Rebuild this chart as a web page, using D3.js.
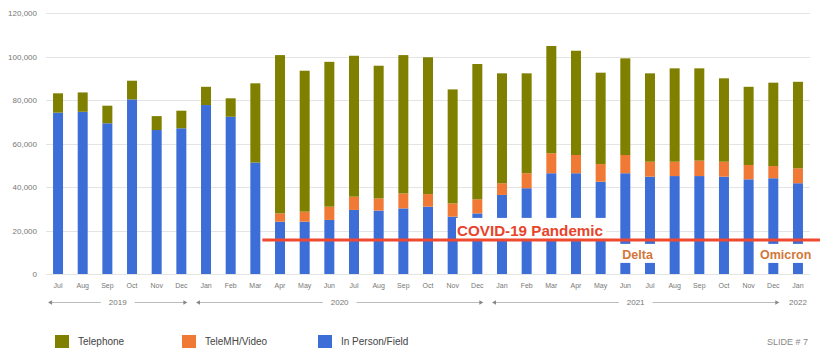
<!DOCTYPE html>
<html>
<head>
<meta charset="utf-8">
<script src="https://cdn.jsdelivr.net/npm/d3@7"></script>
<style>
  html, body { margin: 0; padding: 0; background: #fff; }
  svg { display: block; font-family: "Liberation Sans", Arial, sans-serif; }
</style>
</head>
<body>
<svg id="chart" width="820" height="350"></svg>
<script>
// ---------- data ----------
const months = ["Jul","Aug","Sep","Oct","Nov","Dec",
  "Jan","Feb","Mar","Apr","May","Jun","Jul","Aug","Sep","Oct","Nov","Dec",
  "Jan","Feb","Mar","Apr","May","Jun","Jul","Aug","Sep","Oct","Nov","Dec",
  "Jan"];
const inPerson = [74300,74700,69400,80400,66300,67100,
  77800,72400,51300,24100,24100,24900,29500,29200,30200,31000,26400,27900,
  36400,39500,46400,46400,42500,46400,44800,45100,45100,44800,43600,44100,
  41800];
const teleMH = [0,0,0,0,0,0,
  0,0,0,3800,4600,6100,6100,5600,6900,5800,6100,6500,
  5400,6900,9200,8400,8100,8400,6900,6600,7100,6900,6600,5600,
  6900];
const telephone = [8900,8900,8100,8600,6400,8100,
  8400,8500,36500,72900,64900,66700,64900,61100,63700,63000,52500,62300,
  50600,46000,49400,48000,42100,44500,40700,43000,42500,38400,36000,38400,
  39800];
const yTicks = [0,20000,40000,60000,80000,100000,120000];
const years = [
  {label:"2019", start:0, end:5, line:true},
  {label:"2020", start:6, end:17, line:true},
  {label:"2021", start:18, end:29, line:true},
  {label:"2022", start:30, end:30, line:false}
];
const seriesNames = ["In Person/Field","TeleMH/Video","Telephone"];
const legendNames = ["Telephone","TeleMH/Video","In Person/Field"];
const pandemicLevel = 15700;
const pandemicStart = 8;   // line starts after this month index
const pandemicLabel = "COVID-19 Pandemic";
const waves = [{label:"Delta", start:23, end:24}, {label:"Omicron", start:29, end:30}];

// ---------- styles ----------
const colors = {"Telephone":"#7f7f00","TeleMH/Video":"#f07a35","In Person/Field":"#3d6ed8"};

const svg = d3.select("#chart");
const idx = d3.range(months.length);

const x = d3.scaleBand().domain(idx).range([45.7, 810.3]).paddingInner(0.595).paddingOuter(0.2975);
const y = d3.scaleLinear().domain([0,120000]).range([274, 13.4]);
const xc = i => x(i) + x.bandwidth()/2;

// gridlines
svg.append("g").selectAll("line").data(yTicks).join("line")
  .attr("x1", 46).attr("x2", 810)
  .attr("y1", d => Math.round(y(d)) + 0.5).attr("y2", d => Math.round(y(d)) + 0.5)
  .attr("stroke", "#e4e4e4").attr("stroke-width", 1);

// y axis labels
const yAxis = d3.axisLeft(y).tickValues(yTicks).tickSize(0).tickPadding(0)
  .tickFormat(d3.format(","));
const yg = svg.append("g").attr("transform","translate(37,0)").call(yAxis);
yg.select(".domain").remove();
yg.selectAll("text").attr("font-size", 8).attr("fill", "#777")
  .attr("font-family", "'Liberation Sans', Arial, sans-serif");

// stacked bars
const table = idx.map(i => ({i, "In Person/Field": inPerson[i], "TeleMH/Video": teleMH[i], "Telephone": telephone[i]}));
const stacked = d3.stack().keys(seriesNames)(table);
svg.append("g").selectAll("g").data(stacked).join("g")
  .attr("fill", s => colors[s.key])
  .selectAll("rect").data(s => s).join("rect")
  .attr("x", d => x(d.data.i))
  .attr("width", x.bandwidth())
  .attr("y", d => y(d[1]))
  .attr("height", d => Math.max(0, y(d[0]) - y(d[1])));

// x axis month labels
const xAxis = d3.axisBottom(x).tickSize(0).tickPadding(0).tickFormat(i => months[i]);
const xg = svg.append("g").attr("transform","translate(0,283)").call(xAxis);
xg.select(".domain").remove();
xg.selectAll("text").attr("font-size", 7).attr("fill", "#777")
  .attr("font-family", "'Liberation Sans', Arial, sans-serif");

// year brackets
const yb = svg.append("g");
years.forEach(yr => {
  const a = xc(yr.start) - 9, b = xc(yr.end) + 5;
  const mid = (a + b) / 2;
  const t = yb.append("text").attr("x", yr.line ? mid : xc(yr.start)).attr("y", 305)
    .attr("text-anchor","middle").attr("font-size", 8).attr("fill","#777").text(yr.label);
  if (yr.line) {
    const w = t.node().getComputedTextLength();
    const gap = 8;
    [[a, mid - w/2 - gap], [mid + w/2 + gap, b]].forEach(([p,q]) => {
      yb.append("line").attr("x1", p).attr("x2", q).attr("y1", 302.5).attr("y2", 302.5)
        .attr("stroke", "#bbb").attr("stroke-width", 1);
    });
    yb.append("path").attr("d", `M${a-1},302.5 l4,-2.2 v4.4 z`).attr("fill","#888");
    yb.append("path").attr("d", `M${b+1},302.5 l-4,-2.2 v4.4 z`).attr("fill","#888");
  }
});

// annotation boxes (white) over bars
const pandY = y(pandemicLevel);
const covidBox = {x0: 456, x1: 606};
svg.append("rect").attr("x", covidBox.x0).attr("y", pandY - 22)
  .attr("width", covidBox.x1 - covidBox.x0).attr("height", 21).attr("fill","#fff");
waves.forEach(w => {
  svg.append("rect").attr("x", x(w.start) - 4).attr("y", pandY + 4)
    .attr("width", x(w.end) + x.bandwidth() + 4 - (x(w.start) - 4)).attr("height", 19)
    .attr("fill", "#fff");
});

// pandemic line
svg.append("line")
  .attr("x1", x(pandemicStart) + x.bandwidth() + 2).attr("x2", 820)
  .attr("y1", pandY).attr("y2", pandY)
  .attr("stroke", "#ef4a2f").attr("stroke-width", 3);

svg.append("text").attr("x", covidBox.x0 + 1).attr("y", pandY - 4)
  .attr("font-size", 15.2).attr("font-weight","bold").attr("fill","#e8432b")
  .text(pandemicLabel);

waves.forEach(w => {
  svg.append("text").attr("x", (xc(w.start) + xc(w.end)) / 2).attr("y", pandY + 19)
    .attr("text-anchor","middle").attr("font-size", 12.5).attr("font-weight","bold")
    .attr("fill","#d2773b").text(w.label);
});

// legend
const legX = [55, 182, 318];
const lg = svg.append("g");
legendNames.forEach((n, k) => {
  lg.append("rect").attr("x", legX[k]).attr("y", 335).attr("width", 14).attr("height", 13)
    .attr("fill", colors[n]);
  lg.append("text").attr("x", legX[k] + 23).attr("y", 345).attr("font-size", 10)
    .attr("fill", "#444").text(n);
});

svg.append("text").attr("x", 808).attr("y", 345).attr("text-anchor","end")
  .attr("font-size", 9).attr("fill","#888").text("SLIDE # 7");
</script>
</body>
</html>
